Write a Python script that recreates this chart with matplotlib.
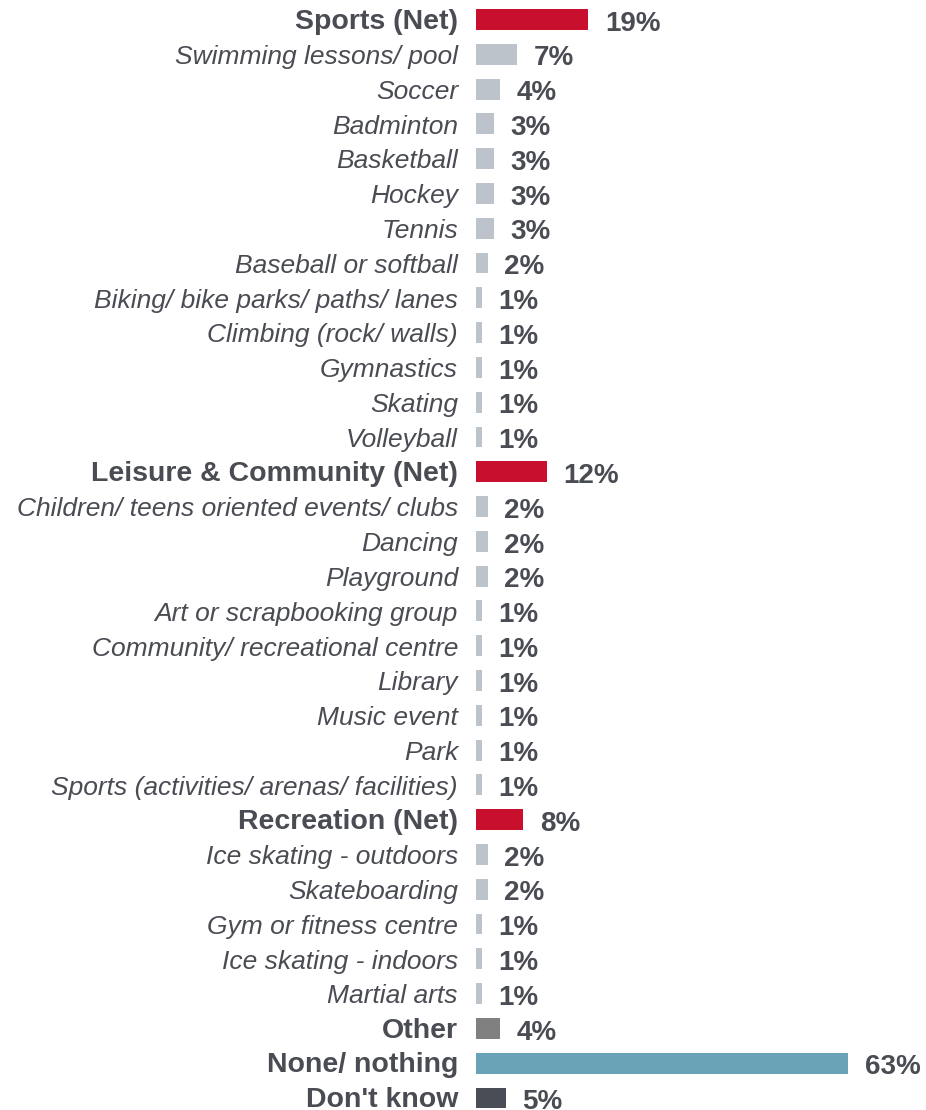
import matplotlib
matplotlib.use("Agg")
import matplotlib.pyplot as plt

categories = [
    "Sports (Net)", "Swimming lessons/ pool", "Soccer", "Badminton", "Basketball",
    "Hockey", "Tennis", "Baseball or softball", "Biking/ bike parks/ paths/ lanes",
    "Climbing (rock/ walls)", "Gymnastics", "Skating", "Volleyball",
    "Leisure & Community (Net)", "Children/ teens oriented events/ clubs", "Dancing",
    "Playground", "Art or scrapbooking group", "Community/ recreational centre",
    "Library", "Music event", "Park", "Sports (activities/ arenas/ facilities)",
    "Recreation (Net)", "Ice skating - outdoors", "Skateboarding",
    "Gym or fitness centre", "Ice skating - indoors", "Martial arts",
    "Other", "None/ nothing", "Don't know",
]
values = [19, 7, 4, 3, 3, 3, 3, 2, 1, 1, 1, 1, 1,
          12, 2, 2, 2, 1, 1, 1, 1, 1, 1,
          8, 2, 2, 1, 1, 1,
          4, 63, 5]
kinds = ["net"] + ["sub"] * 12 + ["net"] + ["sub"] * 9 + ["net"] + ["sub"] * 5 + ["other", "none", "dk"]

colors = {"net": "#C8102E", "sub": "#BCC3CA", "other": "#808080", "none": "#6AA3B8", "dk": "#4A4D55"}
text_color = "#4A4C53"

fig = plt.figure(figsize=(9.26, 11.1), dpi=100)
px_per_pct = (848 - 476) / 63.0
ax = fig.add_axes([476 / 926, 0, (926 - 476) / 926, 1])
ax.set_xlim(0, (926 - 476) / px_per_pct)
pitch = (1098 - 19.5) / 31
ax.set_ylim(31 + (1110 - 1098) / pitch, -19.5 / pitch)
ax.axis("off")

ys = list(range(len(categories)))
ax.barh(ys, values, height=0.6, color=[colors[k] for k in kinds])

for y, cat, v, k in zip(ys, categories, values, kinds):
    if k == "sub":
        ax.annotate(cat, (0, y), xytext=(-13, -2), textcoords="offset points",
                    ha="right", va="center", fontsize=19, style="italic",
                    color=text_color, family="Liberation Sans")
    else:
        ax.annotate(cat, (0, y), xytext=(-13, -1.5), textcoords="offset points",
                    ha="right", va="center", fontsize=20.5, weight="bold",
                    color=text_color, family="Liberation Sans")
    ax.annotate(f"{v}%", (v, y), xytext=(12, -3), textcoords="offset points",
                ha="left", va="center", fontsize=20, weight="bold",
                color=text_color, family="Liberation Sans")

fig.savefig("out.png", dpi=100)
